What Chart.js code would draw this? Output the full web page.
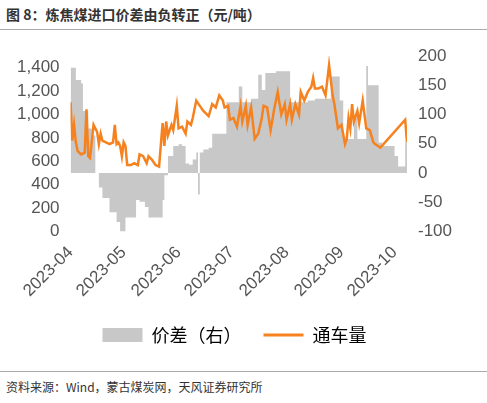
<!DOCTYPE html><html><head><meta charset="utf-8">
<script src="https://cdn.jsdelivr.net/npm/chart.js@4"></script>
<style>body{margin:0;width:487px;height:403px;background:#fff;font-family:"Noto Sans CJK SC",sans-serif;position:relative;overflow:hidden}
#t{position:absolute;left:6px;top:4px;font-size:14px;font-weight:bold;color:#333}
#l1{position:absolute;left:0;top:29px;width:487px;border-top:1px solid #aaa}
#l2{position:absolute;left:0;top:371px;width:487px;border-top:1px solid #aaa}
#s{position:absolute;left:6px;top:378px;font-size:12px;color:#333}
#c{position:absolute;left:0;top:40px}</style></head><body>
<div id="t">图 8：炼焦煤进口价差由负转正（元/吨）</div><div id="l1"></div>
<div id="c"><canvas id="cv" width="487" height="320"></canvas></div>
<div id="l2"></div><div id="s">资料来源：Wind，蒙古煤炭网，天风证券研究所</div>
<script>
const monthTicks=[0,30,61,91,122,153,183];
const monthLabels=['2023-04','2023-05','2023-06','2023-07','2023-08','2023-09','2023-10'];
const lineDays=[0,1,2,3,4,6,8,9,10,11,13,15,16,17,18,20,22,24,25,26,27,28,29,30,31,32,34,36,38,39,41,43,44,46,48,50,52,53,54,55,57,58,60,61,63,65,66,68,69,71,73,75,78,80,82,84,86,87,89,90,92,94,96,97,99,100,102,104,106,108,109,111,113,115,117,119,121,122,124,125,127,129,130,132,134,136,137,138,140,142,144,146,148,149,151,153,155,156,157,158,159,160,162,163,165,167,169,171,172,175,189,190];
const lineVals=[1104,777,911,762,688,658,673,1045,643,628,911,851,747,836,777,762,747,762,911,747,762,732,643,762,732,568,568,583,568,658,643,583,643,613,568,554,926,732,940,821,911,866,1074,881,896,836,940,911,970,1119,1074,1030,985,1089,1060,1164,1119,1060,1074,955,970,896,1074,940,1074,911,1060,792,836,970,1074,1060,866,1045,1193,1000,1089,955,1089,955,1089,1000,1193,1119,1193,1238,1313,1223,1223,1238,1164,1423,1164,1089,881,911,747,792,970,881,1089,940,1030,926,1119,881,866,762,747,717,955,762];
const spreadDays=[0,2,3,6,7,10,12,14,15,16,18,22,26,28,30,31,36,37,39,42,44,50,52,53,55,58,61,63,65,67,69,71,72,73,75,78,80,86,88,90,95,97,102,106,108,110,116,123,124,130,134,138,146,147,152,154,158,160,162,165,167,168,173,174,176,183,185,187,189,190];
const spreadVals=[180,180,159,153,106,76,64,0,0,-25,-43,-67,-84,-102,-105,-76,-76,-46,-49,-58,-76,-76,-46,-4,29,46,49,46,16,14,23,35,-37,35,40,43,67,67,121,121,148,121,127,168,142,171,174,174,121,121,124,127,127,165,124,58,58,94,58,58,183,150,150,52,46,29,11,11,52,0];
const tf={family:'Liberation Sans',size:17};
new Chart(document.getElementById('cv'),{data:{datasets:[
{type:'line',label:'价差（右）',data:spreadDays.map((d,i)=>({x:d,y:spreadVals[i]})),yAxisID:'y1',fill:'origin',backgroundColor:'#C8C8C8',borderWidth:0,pointRadius:0,tension:0,stepped:true,order:2},
{type:'line',label:'通车量',data:lineDays.map((d,i)=>({x:d,y:lineVals[i]})),yAxisID:'y',borderColor:'#F5821F',backgroundColor:'#F5821F',borderWidth:2.5,pointRadius:0,tension:0,order:1}]},
options:{responsive:false,animation:false,layout:{padding:{left:14,right:32,top:16,bottom:6}},
plugins:{legend:{position:'bottom',labels:{usePointStyle:true,pointStyleWidth:40,boxHeight:14,color:'#333',font:{family:'Noto Sans CJK SC',size:18},padding:22,
generateLabels:(c)=>c.data.datasets.map((d,i)=>({text:d.label,fillStyle:i?'#F5821F':'#C8C8C8',strokeStyle:i?'#F5821F':'#C8C8C8',lineWidth:i?3:0,pointStyle:i?'line':'rect',datasetIndex:i}))}},tooltip:{enabled:false}},
scales:{x:{type:'linear',min:0,max:190,afterBuildTicks:a=>{a.ticks=monthTicks.map(v=>({value:v}))},grid:{display:false},border:{display:false},
ticks:{font:tf,color:'#555',maxRotation:45,minRotation:45,callback:v=>monthLabels[monthTicks.indexOf(v)]}},
y:{min:0,max:1500,position:'left',afterBuildTicks:a=>{a.ticks=[0,200,400,600,800,1000,1200,1400].map(v=>({value:v}))},grid:{display:false},border:{display:false},ticks:{font:tf,color:'#555',callback:v=>v.toLocaleString('en-US')}},
y1:{min:-100,max:200,position:'right',grid:{display:false},border:{display:false},ticks:{stepSize:50,font:tf,color:'#555'}}}}});
</script></body></html>
